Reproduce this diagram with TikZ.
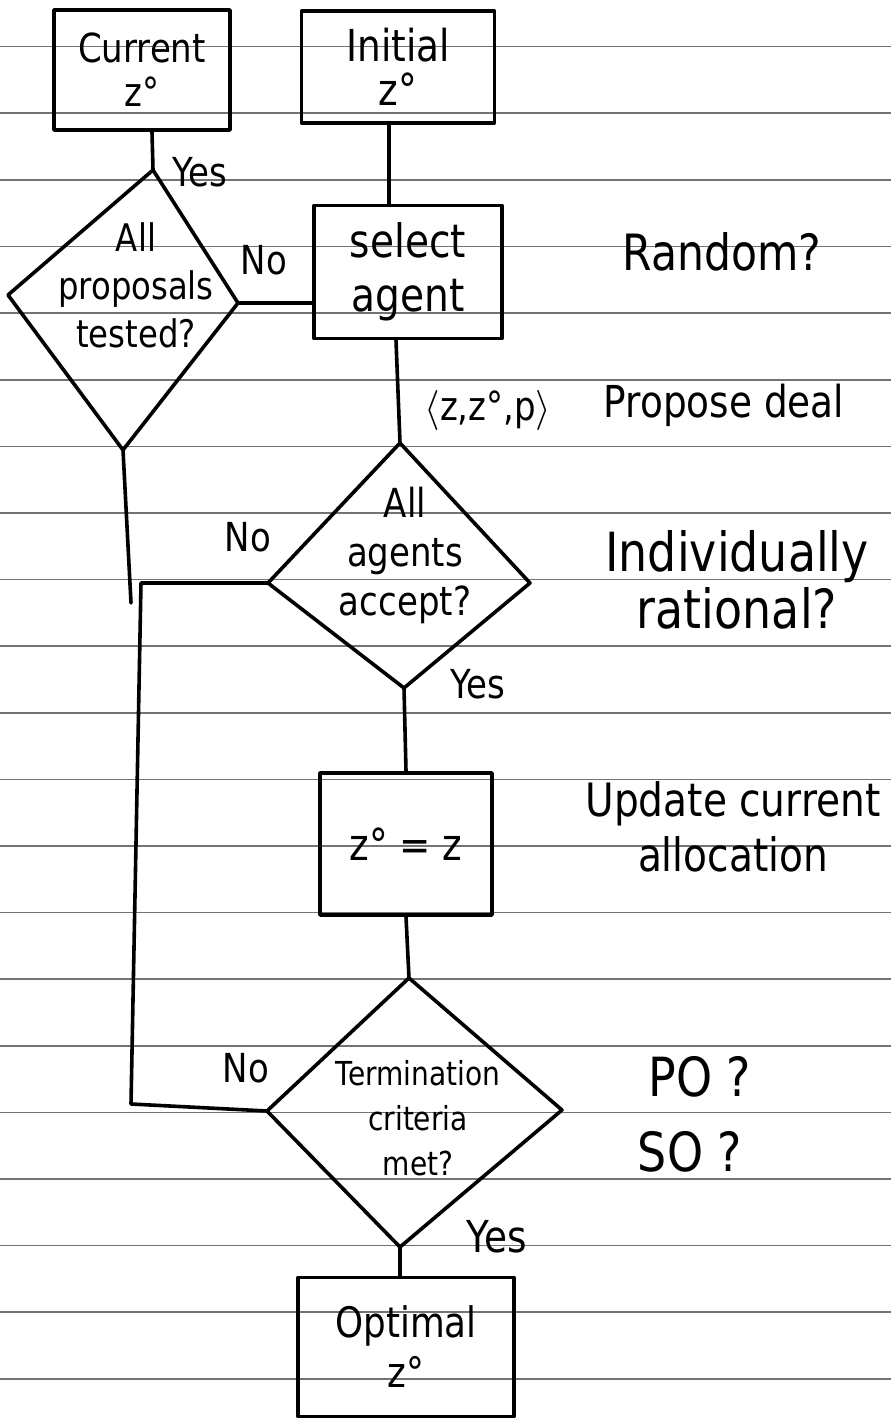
\RequirePackage{fix-cm}
\documentclass[tikz,border=0pt]{standalone}
\usepackage{fontspec}
\setmainfont[FakeStretch=0.85]{DejaVu Sans}
\usetikzlibrary{calc}
\definecolor{rulegray}{RGB}{115,115,115}
\newcommand{\fs}[2]{\fontsize{#1}{#2}\selectfont}
\begin{document}
\begin{tikzpicture}[x=1pt,y=-1pt]
\tikzset{
  ink/.style={line width=3.6pt, line cap=round, line join=round, draw=black},
  ruled/.style={line width=1.6pt, draw=rulegray},
  box/.style={ink, rectangle, inner sep=2pt, align=center},
  txt/.style={align=center, inner sep=0pt}
}
\useasboundingbox (0,0) rectangle (891,1420);
\fill[white] (0,0) rectangle (891,1420);
% ruled paper
\foreach \k in {0,...,20}
  \draw[ruled] (0,{46.7+66.6*\k}) -- (891,{46.7+66.6*\k});

% boxes
\node[box, minimum width=176pt, minimum height=120pt, font=\fs{40}{44}] (b1) at (142,70) {Current\\z°};
\node[box, minimum width=193pt, minimum height=112pt, font=\fs{44}{44}] (b2) at (398,67) {Initial\\z°};
\node[box, minimum width=188pt, minimum height=133pt, font=\fs{46}{54}] (b3) at (408,272) {select\\agent};
\node[box, minimum width=172pt, minimum height=142pt, font=\fs{44}{50}] (b4) at (406,844) {z° = z};
\node[box, minimum width=216pt, minimum height=139pt, font=\fs{42}{50}] (b5) at (406,1347) {Optimal\\z°};

% diamond 1
\coordinate (d1t) at (153,170);
\coordinate (d1r) at (238,303);
\coordinate (d1b) at (123,450);
\coordinate (d1l) at (8,295);
\draw[ink] (d1t) -- (d1r) -- (d1b) -- (d1l) -- cycle;
\node[txt, font=\fs{38}{48}] (d1) at (136,285) {All\\proposals\\tested?};

% diamond 2
\coordinate (d2t) at (400,443);
\coordinate (d2r) at (530,583);
\coordinate (d2b) at (404,688);
\coordinate (d2l) at (268,583);
\draw[ink] (d2t) -- (d2r) -- (d2b) -- (d2l) -- cycle;
\node[txt, font=\fs{40}{49}] (d2) at (405,555) {All\\agents\\accept?};

% diamond 3
\coordinate (d3t) at (409,978);
\coordinate (d3r) at (562,1110);
\coordinate (d3b) at (400,1247);
\coordinate (d3l) at (267,1111);
\draw[ink] (d3t) -- (d3r) -- (d3b) -- (d3l) -- cycle;
\node[txt, font=\fs{33}{45}] (d3) at (418,1118) {Termination\\criteria\\met?};

% junction coordinates
\coordinate (j1) at (131,603);
\coordinate (j2) at (141,583);
\coordinate (j3) at (131,1104);

% connectors
\draw[ink] ([xshift=10pt]b1.south) -- (d1t);
\draw[ink] ([xshift=-9pt]b2.south) -- ([xshift=-19pt]b3.north);
\draw[ink] (d1r) -- (d1r -| b3.west);
\draw[ink] ([xshift=-12pt]b3.south) -- (d2t);
\draw[ink] (d1b) -- (j1);
\draw[ink] (d2l) -- (j2) -- (j3) -- (d3l);
\draw[ink] (d2b) -- (b4.north);
\draw[ink] (b4.south) -- (d3t);
\draw[ink] (d3b) -- ([xshift=-6pt]b5.north);

% labels
\node[txt, font=\fs{40}{48}] (yes1) at (200,172) {Yes};
\node[txt, font=\fs{40}{48}] (no1) at (264,260) {No};
\node[txt, font=\fs{40}{48}] (deal) at (488,410) {$\langle$z,z°,p$\rangle$};
\node[txt, font=\fs{44}{48}] (propose) at (724,405) {Propose deal};
\node[txt, font=\fs{50}{56}] (random) at (722,252) {Random?};
\node[txt, font=\fs{40}{48}] (no2) at (248,537) {No};
\node[txt, font=\fs{54}{57}] (indiv) at (737,580) {Individually\\rational?};
\node[txt, font=\fs{40}{48}] (yes2) at (478,684) {Yes};
\node[txt, font=\fs{46}{55}] (update) at (733,827) {Update current\\allocation};
\node[txt, font=\fs{40}{48}] (no3) at (246,1068) {No};
\node[txt, font=\fs{54}{60}] (po) at (700,1077) {PO ?};
\node[txt, font=\fs{54}{60}] (so) at (690,1152) {SO ?};
\node[txt, font=\fs{44}{48}] (yes3) at (497,1237) {Yes};
\end{tikzpicture}
\end{document}
